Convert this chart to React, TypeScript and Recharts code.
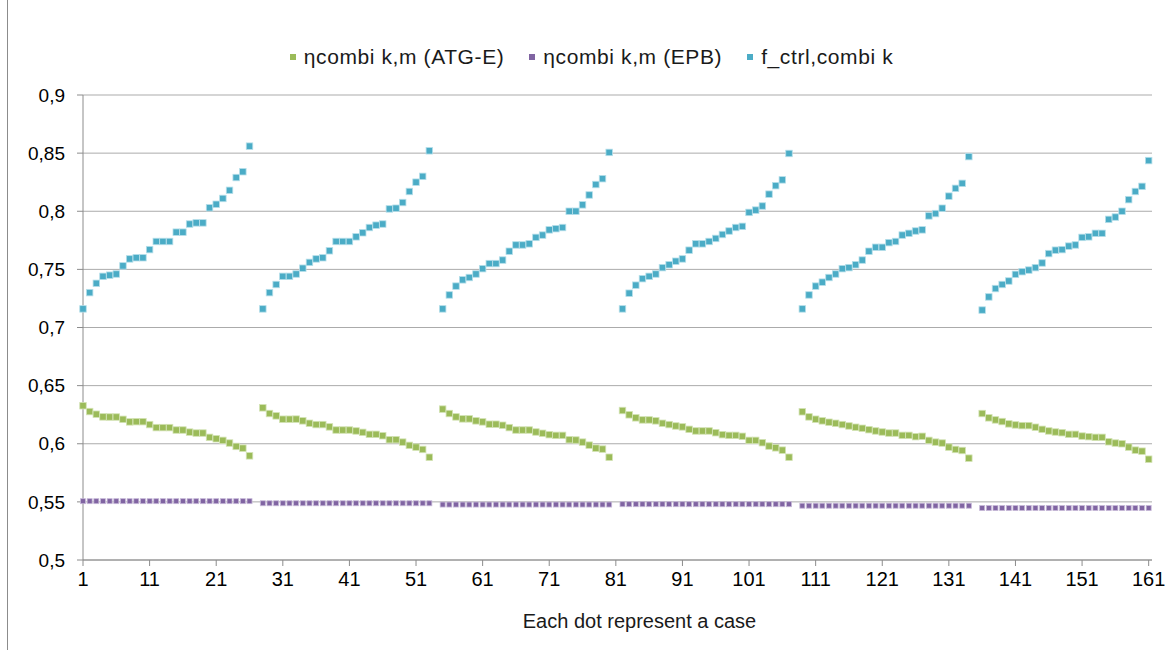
import React from "react";
import { ScatterChart, Scatter, XAxis, YAxis, CartesianGrid, Legend } from "recharts";

// Each group holds 26 cases; one empty case separates the groups on the x axis.
const GROUP_STRIDE = 27;

const X_TICKS = [1, 11, 21, 31, 41, 51, 61, 71, 81, 91, 101, 111, 121, 131, 141, 151, 161];
const Y_TICKS = [0.5, 0.55, 0.6, 0.65, 0.7, 0.75, 0.8, 0.85, 0.9];

const ATG_E = [
  [0.6327, 0.6277, 0.6254, 0.6231, 0.623, 0.623, 0.621, 0.6188, 0.619, 0.619, 0.6165, 0.6139, 0.6139,
   0.6139, 0.6118, 0.6118, 0.61, 0.6092, 0.6092, 0.6055, 0.6043, 0.6029, 0.6006, 0.5977, 0.5962, 0.5896],
  [0.6309, 0.626, 0.624, 0.6211, 0.6211, 0.6212, 0.6197, 0.6176, 0.6165, 0.6165, 0.6145, 0.6118, 0.6118,
   0.6118, 0.611, 0.6098, 0.6081, 0.6081, 0.6069, 0.6035, 0.6035, 0.6014, 0.5986, 0.5971, 0.5951, 0.5884],
  [0.6298, 0.626, 0.6231, 0.6214, 0.6214, 0.6197, 0.6188, 0.6168, 0.6168, 0.6159, 0.6139, 0.6118, 0.6118,
   0.6118, 0.6101, 0.609, 0.6078, 0.6072, 0.6072, 0.6035, 0.6032, 0.6014, 0.5988, 0.5962, 0.5954, 0.5884],
  [0.6286, 0.6249, 0.6223, 0.6205, 0.6205, 0.6197, 0.6176, 0.6165, 0.6153, 0.6145, 0.6124, 0.611, 0.611,
   0.611, 0.6095, 0.6078, 0.6072, 0.6072, 0.6064, 0.6029, 0.6029, 0.6009, 0.598, 0.5965, 0.5945, 0.5884],
  [0.6275, 0.6231, 0.6211, 0.6197, 0.6185, 0.6176, 0.6165, 0.6153, 0.6142, 0.6133, 0.6121, 0.611, 0.6101,
   0.6092, 0.6092, 0.6072, 0.6072, 0.6061, 0.6064, 0.6029, 0.6014, 0.6006, 0.5971, 0.5951, 0.5942, 0.5876],
  [0.626, 0.6223, 0.6205, 0.6191, 0.6171, 0.6162, 0.6156, 0.6156, 0.6142, 0.6124, 0.611, 0.6101, 0.6095,
   0.6081, 0.6081, 0.6066, 0.6061, 0.6055, 0.6055, 0.6017, 0.6006, 0.6, 0.5971, 0.5945, 0.5936, 0.5867],
];

const EPB = [
  [0.5506, 0.5506, 0.5506, 0.5506, 0.5506, 0.5506, 0.5506, 0.5506, 0.5506, 0.5506, 0.5506, 0.5506, 0.5506,
   0.5506, 0.5506, 0.5506, 0.5506, 0.5506, 0.5506, 0.5506, 0.5506, 0.5506, 0.5506, 0.5506, 0.5506, 0.5506],
  [0.5488, 0.5488, 0.5488, 0.5488, 0.5488, 0.5488, 0.5488, 0.5488, 0.5488, 0.5488, 0.5488, 0.5488, 0.5488,
   0.5488, 0.5488, 0.5488, 0.5488, 0.5488, 0.5488, 0.5488, 0.5488, 0.5488, 0.5488, 0.5488, 0.5488, 0.5488],
  [0.5477, 0.5477, 0.5477, 0.5477, 0.5477, 0.5477, 0.5477, 0.5477, 0.5477, 0.5477, 0.5477, 0.5477, 0.5477,
   0.5477, 0.5477, 0.5477, 0.5477, 0.5477, 0.5477, 0.5477, 0.5477, 0.5477, 0.5477, 0.5477, 0.5477, 0.5477],
  [0.548, 0.548, 0.548, 0.548, 0.548, 0.548, 0.548, 0.548, 0.548, 0.548, 0.548, 0.548, 0.548,
   0.548, 0.548, 0.548, 0.548, 0.548, 0.548, 0.548, 0.548, 0.548, 0.548, 0.548, 0.548, 0.548],
  [0.5467, 0.5467, 0.5467, 0.5467, 0.5467, 0.5467, 0.5467, 0.5467, 0.5467, 0.5467, 0.5467, 0.5467, 0.5467,
   0.5467, 0.5467, 0.5467, 0.5467, 0.5467, 0.5467, 0.5467, 0.5467, 0.5467, 0.5467, 0.5467, 0.5467, 0.5467],
  [0.5447, 0.5447, 0.5447, 0.5447, 0.5447, 0.5447, 0.5447, 0.5447, 0.5447, 0.5447, 0.5447, 0.5447, 0.5447,
   0.5447, 0.5447, 0.5447, 0.5447, 0.5447, 0.5447, 0.5447, 0.5447, 0.5447, 0.5447, 0.5447, 0.5447, 0.5447],
];

const F_CTRL = [
  [0.716, 0.73, 0.738, 0.744, 0.745, 0.746, 0.753, 0.759, 0.76, 0.76, 0.767, 0.774, 0.774,
   0.774, 0.782, 0.782, 0.789, 0.79, 0.79, 0.803, 0.806, 0.811, 0.818, 0.829, 0.834, 0.856],
  [0.716, 0.73, 0.737, 0.744, 0.744, 0.746, 0.751, 0.756, 0.759, 0.76, 0.766, 0.774, 0.774,
   0.774, 0.778, 0.7815, 0.786, 0.788, 0.789, 0.802, 0.8026, 0.8075, 0.817, 0.825, 0.83, 0.852],
  [0.716, 0.728, 0.7356, 0.741, 0.743, 0.746, 0.7506, 0.755, 0.755, 0.758, 0.7656, 0.771, 0.771,
   0.772, 0.7775, 0.7795, 0.784, 0.785, 0.786, 0.8, 0.8, 0.8055, 0.814, 0.823, 0.828, 0.8506],
  [0.716, 0.7295, 0.7364, 0.742, 0.744, 0.746, 0.7515, 0.754, 0.757, 0.759, 0.7665, 0.772, 0.772,
   0.774, 0.7766, 0.78, 0.783, 0.786, 0.787, 0.799, 0.801, 0.8045, 0.8147, 0.822, 0.827, 0.8497],
  [0.716, 0.728, 0.7356, 0.739, 0.743, 0.746, 0.7506, 0.7515, 0.754, 0.758, 0.7656, 0.769, 0.769,
   0.773, 0.774, 0.7795, 0.781, 0.783, 0.784, 0.796, 0.798, 0.8026, 0.813, 0.8197, 0.824, 0.847],
  [0.715, 0.7263, 0.7335, 0.737, 0.74, 0.7457, 0.748, 0.7494, 0.7515, 0.7555, 0.7636, 0.7665, 0.767,
   0.77, 0.771, 0.7775, 0.778, 0.781, 0.781, 0.793, 0.795, 0.8, 0.81, 0.817, 0.8214, 0.8436],
];

const LABELS = ["ηcombi k,m (ATG-E)", "ηcombi k,m (EPB)", "f_ctrl,combi k"];
const COLORS = ["#9bbb59", "#8064a2", "#4bacc6"];

const FONT = "'Liberation Sans', Arial, sans-serif";

const toPoints = (groups: number[][]) =>
  groups.flatMap((g, gi) => g.map((y, i) => ({ x: gi * GROUP_STRIDE + i + 1, y })));

const fmtTick = (v: number) => v.toFixed(2).replace(/0$/, "").replace(".", ",");

const squareShape = (size: number, fill: string, stroke: string) => (props: any) => (
  <rect
    x={props.cx - size / 2}
    y={props.cy - size / 2}
    width={size}
    height={size}
    fill={fill}
    stroke={stroke}
    strokeWidth={0.8}
  />
);

const LegendContent = () => (
  <div
    style={{
      display: "flex",
      justifyContent: "center",
      gap: 25,
      fontFamily: FONT,
      fontSize: 21,
      letterSpacing: 0.6,
      color: "#1a1a1a",
      paddingLeft: 16,
    }}
  >
    {LABELS.map((label, i) => (
      <span key={label} style={{ display: "inline-flex", alignItems: "center" }}>
        <span
          style={{ display: "inline-block", width: 6, height: 6, background: COLORS[i], marginRight: 8 }}
        />
        {label}
      </span>
    ))}
  </div>
);

export default function App() {
  const series = [toPoints(ATG_E), toPoints(EPB), toPoints(F_CTRL)];
  return (
    <div
      style={{
        position: "absolute",
        left: 0,
        top: 0,
        width: 1167,
        height: 650,
        background: "#fff",
      }}
    >
      <div style={{ position: "absolute", left: 7, top: 0, width: 1, height: 650, background: "#8c8c8c" }} />
      <ScatterChart width={1167} height={650} margin={{ top: 95, right: 15, bottom: 0, left: 0 }}>
        <CartesianGrid vertical={false} stroke="#ababab" />
        <XAxis
          type="number"
          dataKey="x"
          domain={[1, 161.5]}
          ticks={X_TICKS}
          interval={0}
          height={90}
          tickSize={6}
          tickMargin={6}
          stroke="#8c8c8c"
          tick={{ fill: "#000", fontSize: 20, fontFamily: FONT }}
          label={{
            value: "Each dot represent a case",
            position: "insideBottom",
            offset: 22,
            dx: 22,
            style: { fill: "#1a1a1a", fontSize: 20, fontFamily: FONT },
          }}
        />
        <YAxis
          type="number"
          dataKey="y"
          domain={[0.5, 0.9]}
          ticks={Y_TICKS}
          width={83}
          tickSize={6}
          tickMargin={12}
          stroke="#8c8c8c"
          tickFormatter={fmtTick}
          tick={{ fill: "#000", fontSize: 19, fontFamily: FONT }}
        />
        <Legend
          verticalAlign="middle"
          align="center"
          layout="horizontal"
          content={LegendContent}
          wrapperStyle={{ top: 45, left: 0, width: 1167 }}
        />
        <Scatter
          name={LABELS[0]}
          data={series[0]}
          shape={squareShape(6.5, COLORS[0], "#d3e3b4")}
          isAnimationActive={false}
        />
        <Scatter
          name={LABELS[1]}
          data={series[1]}
          shape={squareShape(5, COLORS[1], "#c6b8d8")}
          isAnimationActive={false}
        />
        <Scatter
          name={LABELS[2]}
          data={series[2]}
          shape={squareShape(6.5, COLORS[2], "#b6dfea")}
          isAnimationActive={false}
        />
      </ScatterChart>
    </div>
  );
}
